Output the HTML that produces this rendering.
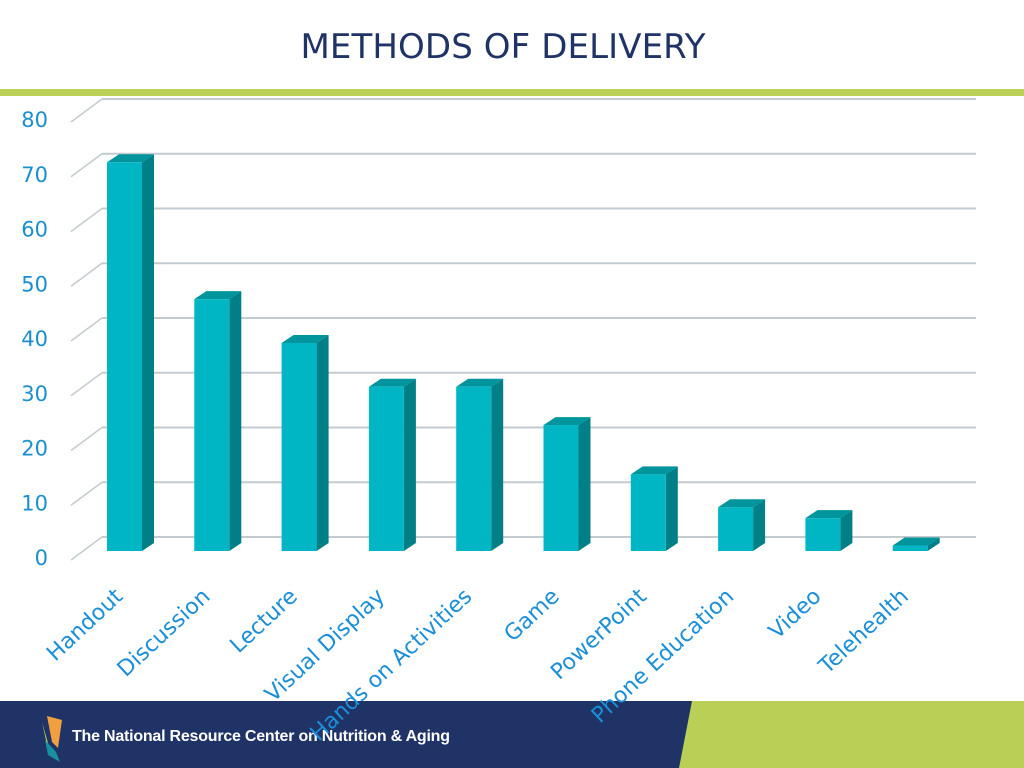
<!DOCTYPE html>
<html><head><meta charset="utf-8"><style>
html,body{margin:0;padding:0;width:1024px;height:768px;overflow:hidden;background:#fff;font-family:"Liberation Sans",sans-serif}
</style></head><body>
<svg width="1024" height="768" viewBox="0 0 1024 768">
<text x="503" y="58" text-anchor="middle" font-size="34" fill="#1f3366" font-family="DejaVu Sans, sans-serif" textLength="405">METHODS OF DELIVERY</text>
<rect x="0" y="89" width="1024" height="7" fill="#b9cf55"/>
<g id="grid"></g>
<g id="bars"></g>
<rect x="0" y="701" width="1024" height="67" fill="#1f3366"/>
<polygon points="692,701 1024,701 1024,768 679,768" fill="#b9cf55"/>
<g>
<polygon points="42,722 47,745 50,750" fill="#b9cf55"/>
<polygon points="47,716 62,720 58,748 52,742" fill="#f0a040"/>
<polygon points="45,740 56,752 60,762 48,755" fill="#1a8fa0"/>
</g>
<text x="72" y="741" font-size="16" font-weight="bold" fill="#fff" textLength="378">The National Resource Center on Nutrition &amp; Aging</text>
<g id="labels"></g>
</svg>
<script>
const categories=["Handout","Discussion","Lecture","Visual Display","Hands on Activities","Game","PowerPoint","Phone Education","Video","Telehealth"];
const values=[71,46,38,30,30,23,14,8,6,1];
const ticks=[0,10,20,30,40,50,60,70,80];
const NS="http://www.w3.org/2000/svg";
function mk(t,a,p){const e=document.createElementNS(NS,t);for(const k in a)e.setAttribute(k,a[k]);p.appendChild(e);return e;}
const base=551, scale=438/80;
function yv(v){return base-v*scale;}
function xb(i){return 107+i*87.3;}
const grid=document.getElementById('grid');
ticks.forEach(t=>{
  const yb=537-t*scale;
  const l=mk('line',{x1:102,y1:yb,x2:976,y2:yb,stroke:'#c3cbd0','stroke-width':2},grid);
  
  
  const d=mk('line',{x1:71,y1:yb+23,x2:102,y2:yb,stroke:'#c3cbd0','stroke-width':1.5},grid);
  
  
  const tx=mk('text',{x:48,y:yb+28,'text-anchor':'end','font-size':21,fill:'#1a8fd0','font-family':'DejaVu Sans, sans-serif'},grid);
  tx.textContent=t;
  
  
});
const bars=document.getElementById('bars'), labels=document.getElementById('labels');
values.forEach((v,i)=>{
  const x=xb(i), w=35, y=yv(v), dx=12, dy=8;
  const g=mk('g',{},bars);
  
  
  mk('polygon',{points:`${x+w},${y} ${x+w+dx},${y-dy} ${x+w+dx},${base-dy} ${x+w},${base}`,fill:'#007f86'},g);
  mk('polygon',{points:`${x},${y} ${x+dx},${y-dy} ${x+w+dx},${y-dy} ${x+w},${y}`,fill:'#00959d'},g);
  mk('rect',{x:x,y:y,width:w,height:base-y,fill:'#00b5c4'},g);
  const t=mk('text',{x:x+17,y:598,'text-anchor':'end','font-size':22,fill:'#1a8fd8','font-family':'DejaVu Sans, sans-serif',transform:`rotate(-43 ${x+17} 598)`},labels);
  t.textContent=categories[i];
  
  
});
</script>
</body></html>
